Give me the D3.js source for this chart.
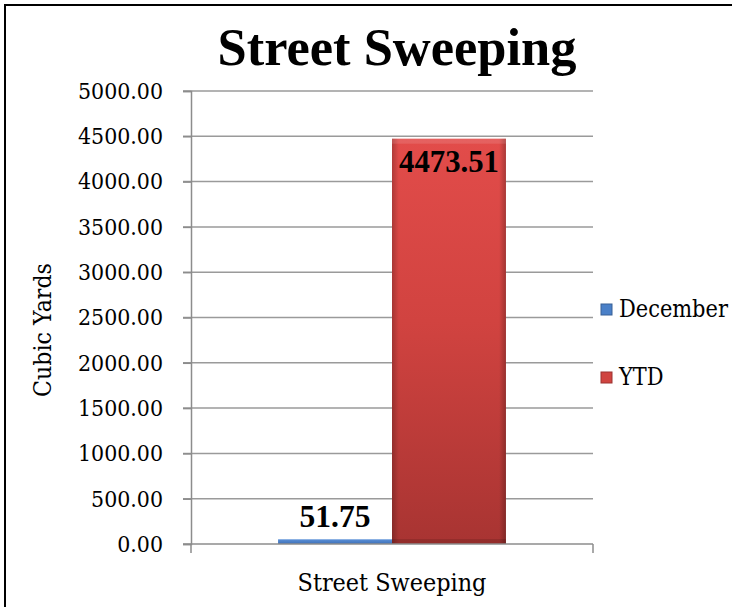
<!DOCTYPE html>
<html>
<head>
<meta charset="utf-8">
<script src="https://cdn.jsdelivr.net/npm/d3@7"></script>
<style>
  body { margin: 0; background: #fff; }
  svg { display: block; }
  text { fill: #000; }
</style>
</head>
<body>
<svg id="chart"></svg>
<script>
// data
const categories = ["Street Sweeping"];
const seriesNames = ["December", "YTD"];
const seriesValues = [51.75, 4473.51];
const yTicks = [0, 500, 1000, 1500, 2000, 2500, 3000, 3500, 4000, 4500, 5000];
const titleText = "Street Sweeping";
const yLabel = "Cubic Yards";

const width = 732, height = 607;
const serif = '"DejaVu Serif Condensed", "DejaVu Serif", serif';
const boldSerif = '"Liberation Serif", "Times New Roman", serif';
const svg = d3.select("#chart").attr("width", width).attr("height", height)
    .attr("font-family", serif).style("font-stretch", "condensed");

// helper: pick a font size that gives the text a wanted width
function fitWidth(sel, target) {
    const size = parseFloat(sel.attr("font-size"));
    const w = sel.node().getComputedTextLength();
    sel.attr("font-size", size * target / w);
    return size * target / w;
}

const defs = svg.append("defs");
const redGrad = defs.append("linearGradient").attr("id", "redV").attr("x1", 0).attr("y1", 0).attr("x2", 0).attr("y2", 1);
redGrad.append("stop").attr("offset", "0%").attr("stop-color", "#e24c4a");
redGrad.append("stop").attr("offset", "45%").attr("stop-color", "#d14340");
redGrad.append("stop").attr("offset", "100%").attr("stop-color", "#a83432");
const blueGrad = defs.append("linearGradient").attr("id", "blueV").attr("x1", 0).attr("y1", 0).attr("x2", 0).attr("y2", 1);
blueGrad.append("stop").attr("offset", "0%").attr("stop-color", "#5a90d8");
blueGrad.append("stop").attr("offset", "100%").attr("stop-color", "#3f6fb5");
// side shading for the bevel look
const edge = defs.append("linearGradient").attr("id", "edgeH").attr("x1", 0).attr("y1", 0).attr("x2", 1).attr("y2", 0);
edge.append("stop").attr("offset", "0%").attr("stop-color", "#000").attr("stop-opacity", 0.22);
edge.append("stop").attr("offset", "6%").attr("stop-color", "#000").attr("stop-opacity", 0);
edge.append("stop").attr("offset", "94%").attr("stop-color", "#000").attr("stop-opacity", 0);
edge.append("stop").attr("offset", "100%").attr("stop-color", "#000").attr("stop-opacity", 0.25);
const fills = {December: "url(#blueV)", YTD: "url(#redV)"};
const legendFills = {December: "#4a80c8", YTD: "#d04440"};

// outer frame
svg.append("rect")
    .attr("x", 5).attr("y", 5).attr("width", 740).attr("height", 620)
    .attr("fill", "#fff").attr("stroke", "#000").attr("stroke-width", 2);

// scales
const x = d3.scaleBand().domain(categories).range([191, 593]).paddingInner(0).paddingOuter(0.382);
const xs = d3.scaleBand().domain(seriesNames).range([0, x.bandwidth()]);
const y = d3.scaleLinear().domain([0, 5000]).range([544, 91]);

// gridlines
svg.append("g").selectAll("line").data(yTicks.filter(d => d > 0)).enter().append("line")
    .attr("x1", 183).attr("x2", 593)
    .attr("y1", d => y(d)).attr("y2", d => y(d))
    .attr("stroke", "#9a9a9a").attr("stroke-width", 1.5);

// y axis
const yAxis = svg.append("g").attr("transform", "translate(191,0)")
    .call(d3.axisLeft(y).tickValues(yTicks).tickFormat(d3.format(".2f")).tickSize(8).tickPadding(20));
yAxis.attr("font-family", serif);
yAxis.select(".domain").attr("stroke", "#8c8c8c").attr("stroke-width", 1.5);
yAxis.selectAll(".tick line").attr("stroke", "#8c8c8c").attr("stroke-width", 1.5);
yAxis.selectAll(".tick text").attr("font-size", 22).attr("fill", "#000");
const tickSize = fitWidth(yAxis.select(".tick:last-of-type text"), 85);
yAxis.selectAll(".tick text").attr("font-size", tickSize);

// bars
const bars = svg.append("g");
seriesNames.forEach((s, i) => {
    const bx = x(categories[0]) + xs(s);
    const by = y(seriesValues[i]);
    const bh = y(0) - by;
    bars.append("rect").attr("x", bx).attr("y", by).attr("width", xs.bandwidth()).attr("height", bh)
        .attr("fill", fills[s]);
    if (bh > 20) {
        bars.append("rect").attr("x", bx).attr("y", by).attr("width", xs.bandwidth()).attr("height", bh)
            .attr("fill", "url(#edgeH)");
        bars.append("rect").attr("x", bx).attr("y", by).attr("width", xs.bandwidth()).attr("height", 5)
            .attr("fill", "#fff").attr("fill-opacity", 0.12);
        bars.append("rect").attr("x", bx).attr("y", y(0) - 5).attr("width", xs.bandwidth()).attr("height", 5)
            .attr("fill", "#000").attr("fill-opacity", 0.12);
    }
});

// x axis
const xAxis = svg.append("g").attr("transform", "translate(0,544)");
xAxis.append("line").attr("x1", 183).attr("x2", 593).attr("stroke", "#8c8c8c").attr("stroke-width", 1.5);
[191, 593].forEach(px => xAxis.append("line").attr("x1", px).attr("x2", px).attr("y1", 0).attr("y2", 9)
    .attr("stroke", "#8c8c8c").attr("stroke-width", 1.5));
const xLab = xAxis.append("text").attr("x", x(categories[0]) + x.bandwidth() / 2).attr("y", 47)
    .attr("text-anchor", "middle").attr("font-size", 22).text(categories[0]);
fitWidth(xLab, 189);

// data labels
const lab0 = svg.append("text").attr("x", x(categories[0]) + xs("December") + xs.bandwidth() / 2)
    .attr("y", y(seriesValues[0]) - 12).attr("text-anchor", "middle").attr("font-family", boldSerif)
    .style("font-stretch", "normal")
    .attr("font-weight", "bold").attr("font-size", 28).text(seriesValues[0].toFixed(2));
fitWidth(lab0, 71);
const lab1 = svg.append("text").attr("x", x(categories[0]) + xs("YTD") + xs.bandwidth() / 2)
    .attr("y", y(seriesValues[1]) + 33).attr("text-anchor", "middle").attr("font-family", boldSerif)
    .style("font-stretch", "normal")
    .attr("font-weight", "bold").attr("font-size", 28).text(seriesValues[1].toFixed(2));
fitWidth(lab1, 100);

// title
const title = svg.append("text").attr("x", 397).attr("y", 65).attr("text-anchor", "middle")
    .attr("font-family", boldSerif).style("font-stretch", "normal")
    .attr("font-weight", "bold").attr("font-size", 50).text(titleText);
fitWidth(title, 359);

// y label
const yl = svg.append("text").attr("transform", "translate(51,330) rotate(-90)")
    .attr("text-anchor", "middle").attr("font-size", 22).text(yLabel);
fitWidth(yl, 134);

// legend
const legend = svg.append("g");
const legendY = [304, 372];
seriesNames.forEach((s, i) => {
    legend.append("rect").attr("x", 601).attr("y", legendY[i]).attr("width", 11).attr("height", 11)
        .attr("fill", legendFills[s]).attr("stroke", d3.color(legendFills[s]).darker(0.8)).attr("stroke-width", 1);
    const t = legend.append("text").attr("x", 619).attr("y", legendY[i] + 13).attr("font-size", 22).text(s);
    if (i === 0) fitWidth(t, 109);
});
legend.selectAll("text").attr("font-size", legend.select("text").attr("font-size"));
</script>
</body>
</html>
